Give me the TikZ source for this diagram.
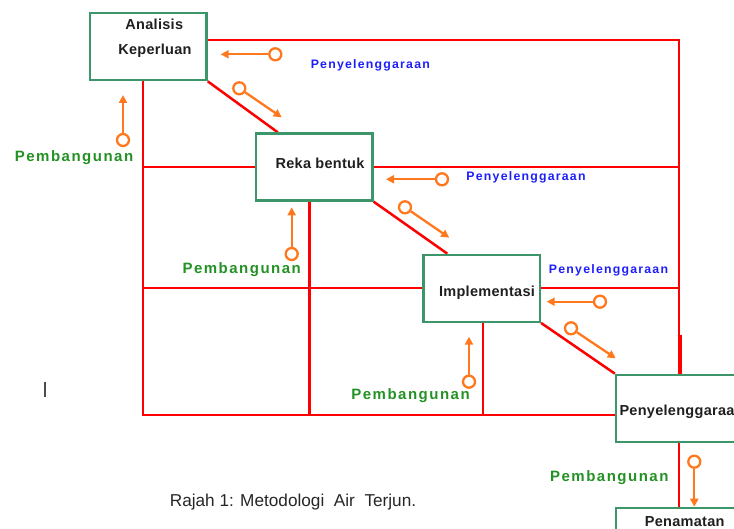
\documentclass[tikz,border=0pt]{standalone}
\usepackage{fontspec}
\setmainfont{Liberation Sans}
\newfontfamily\phasefam[LetterSpace=2]{Liberation Sans}
\newfontfamily\pembfam[LetterSpace=10]{Liberation Sans}
\newfontfamily\penyfam[LetterSpace=10]{Liberation Sans}
\usetikzlibrary{arrows.meta,backgrounds}

\definecolor{boxgreen}{RGB}{60,150,105}
\definecolor{linered}{RGB}{255,0,0}
\definecolor{knoborange}{RGB}{255,120,30}
\definecolor{pembgreen}{RGB}{35,145,35}
\definecolor{penyblue}{RGB}{30,30,250}

\tikzset{
  phase/.style={draw=boxgreen, line width=2.3pt, minimum width=116.5pt, minimum height=67pt, inner sep=0pt},
  widephase/.style={phase, minimum width=134pt},
  phasetext/.style={inner sep=0pt, text=black!88, font=\phasefam\bfseries\fontsize{14.5}{16}\selectfont},
  redline/.style={draw=linered, line width=2pt},
  knob/.style={circle, draw=knoborange, line width=2.3pt, minimum size=12pt, inner sep=0pt},
  flow/.style={draw=knoborange, line width=2.3pt, -{Triangle[length=8pt,width=8pt]}},
  pemb/.style={inner sep=0pt, text=pembgreen, font=\pembfam\bfseries\fontsize{15}{17}\selectfont},
  peny/.style={inner sep=0pt, text=penyblue, font=\penyfam\bfseries\fontsize{12.3}{14}\selectfont}
}

\begin{document}
\begin{tikzpicture}[x=1pt,y=-1pt]
  \useasboundingbox (0,0) rectangle (734,529);

  % Phasen
  \node[phase] (ak) at (148.3,46.7) {};
  \node[phase] (rb) at (314.2,167) {};
  \node[phase] (im) at (481.7,288.3) {};
  \node[widephase] (ps) at (683,408.3) {};
  \node[widephase] (pn) at (683,541.8) {};

  \node[phasetext] (ak1) at (154.3,24) {Analisis};
  \node[phasetext] (ak2) at (155,51) {Keperluan};
  \node[phasetext] (rbt) at (320,163.3) {Reka bentuk};
  \node[phasetext] (imt) at (487,292.3) {Implementasi};
  \node[phasetext, anchor=west] (pst) at (619.3,412) {Penyelenggaraan};
  \node[phasetext] (pnt) at (684.7,521.7) {Penamatan};

  % Rahmen
  \coordinate (tr) at (678.5,40);
  \coordinate (bl) at (142.7,415);
  \coordinate (m1) at (309.3,415);
  \coordinate (m2) at (483.3,415);
  \coordinate (tk) at (680,335);
  \begin{scope}[on background layer]
    \draw[redline] (ak.east |- tr) -- (tr) -- (ps.north -| tr);
    \draw[redline] (ak.south -| bl) -- (bl) -- (ps.west |- bl);
    \draw[redline] (rb.west) -- (rb.west -| bl);
    \draw[redline] (rb.east) -- (rb.east -| tr);
    \draw[redline] (im.west) -- (im.west -| bl);
    \draw[redline] (im.east) -- (im.east -| tr);
    \draw[redline, line width=3pt] (rb.south -| m1) -- (m1);
    \draw[redline] (im.south -| m2) -- (m2);
    \draw[redline, line width=4pt] (tk) -- (tk |- ps.north);
    \draw[redline] (ps.south -| tr) -- (pn.north -| tr);
    \draw[redline, line width=2.5pt] (ak.south east) -- ([xshift=23pt]rb.north west);
    \draw[redline, line width=2.5pt] (rb.south east) -- ([xshift=25pt]im.north west);
    \draw[redline, line width=2.5pt] (im.south east) -- (ps.north west);
  \end{scope}

  % Penyelenggaraan
  \node[knob] (k1) at (275.3,54.3) {}; \coordinate (t1) at (220.7,54.3); \draw[flow] (k1) -- (t1);
  \node[knob] (k2) at (442,179.3) {};  \coordinate (t2) at (386,179.3);  \draw[flow] (k2) -- (t2);
  \node[knob] (k3) at (600,301.7) {};  \coordinate (t3) at (546.7,301.7); \draw[flow] (k3) -- (t3);
  \node[peny] (py1) at (370.3,65.7) {Penyelenggaraan};
  \node[peny] (py2) at (526,177.5) {Penyelenggaraan};
  \node[peny] (py3) at (608.5,270.5) {Penyelenggaraan};

  % Weiter
  \node[knob] (d1) at (239.3,88.3) {};  \coordinate (s1) at (281.7,117.3); \draw[flow] (d1) -- (s1);
  \node[knob] (d2) at (405,207.3) {};   \coordinate (s2) at (449.3,237.7); \draw[flow] (d2) -- (s2);
  \node[knob] (d3) at (571,328.3) {};   \coordinate (s3) at (615.7,358.3); \draw[flow] (d3) -- (s3);

  % Pembangunan
  \node[knob] (u1) at (123,140) {};     \coordinate (v1) at (123,95);     \draw[flow] (u1) -- (v1);
  \node[knob] (u2) at (291.7,254) {};   \coordinate (v2) at (291.7,207.3); \draw[flow] (u2) -- (v2);
  \node[knob] (u3) at (469,381.7) {};   \coordinate (v3) at (469,336.7);  \draw[flow] (u3) -- (v3);
  \node[knob] (u4) at (694.3,461.7) {}; \coordinate (v4) at (694.3,506.7); \draw[flow] (u4) -- (v4);
  \node[pemb] (pb1) at (74,157.3) {Pembangunan};
  \node[pemb] (pb2) at (241.7,269.3) {Pembangunan};
  \node[pemb] (pb3) at (410.5,396) {Pembangunan};
  \node[pemb] (pb4) at (609.3,477.3) {Pembangunan};

  % Cursor und Titel
  \draw[black!70, line width=1.5pt] (45,382) -- (45,397);
  \node[inner sep=0pt, text=black!85, font=\fontsize{17.2}{19}\selectfont] (cap) at (293,502.3) {Rajah 1: Metodologi\ \ Air\ \ Terjun.};
\end{tikzpicture}
\end{document}
